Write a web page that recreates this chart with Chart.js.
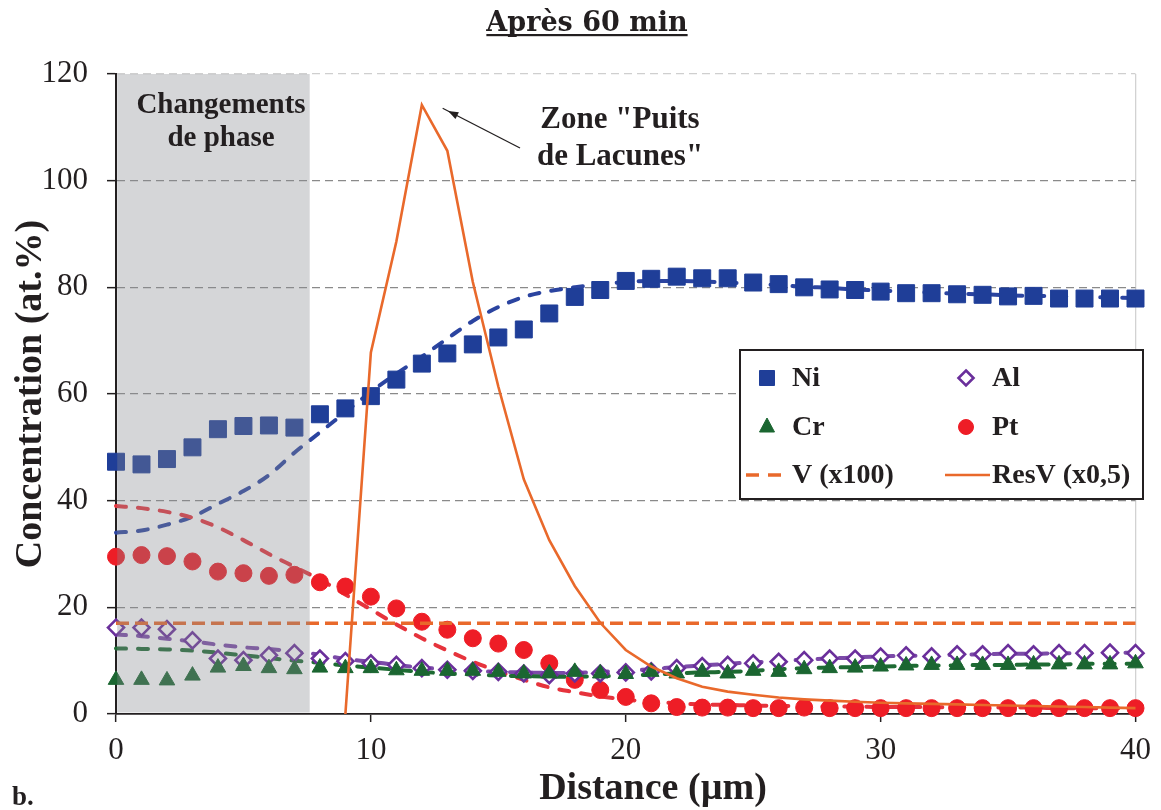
<!DOCTYPE html>
<html>
<head>
<meta charset="utf-8">
<title>Après 60 min</title>
<script src="https://cdn.jsdelivr.net/npm/chart.js@4.4.1/dist/chart.umd.min.js"></script>
<style>
  html, body { margin: 0; padding: 0; background: #fff; }
</style>
</head>
<body>
<canvas id="profileChart" width="1161" height="810"></canvas>
<script>
// Distance (µm) of each analysis point
const distance = [0, 1, 2, 3, 4, 5, 6, 7, 8, 9, 10, 11, 12, 13, 14, 15, 16, 17, 18, 19, 20,
                  21, 22, 23, 24, 25, 26, 27, 28, 29, 30, 31, 32, 33, 34, 35, 36, 37, 38, 39, 40];

// Measured concentrations (at.%)
const ni = [47.3, 46.8, 47.8, 50.0, 53.4, 54.0, 54.1, 53.7, 56.2, 57.3, 59.6, 62.7, 65.7, 67.6, 69.3, 70.6, 72.1, 75.1, 78.2, 79.5, 81.2,
            81.6, 82.0, 81.7, 81.7, 80.9, 80.6, 80.0, 79.6, 79.5, 79.2, 78.9, 78.9, 78.7, 78.6, 78.3, 78.4, 77.9, 77.9, 77.9, 77.9];
const al = [16.2, 16.2, 15.9, 13.8, 10.4, 10.1, 11.0, 11.4, 10.4, 9.9, 9.5, 9.2, 8.6, 8.3, 8.1, 7.9, 7.6, 7.3, 7.6, 7.6, 7.8,
            8.0, 8.6, 9.0, 9.2, 9.5, 9.8, 10.1, 10.4, 10.4, 10.75, 11.0, 10.8, 11.2, 11.2, 11.4, 11.2, 11.4, 11.4, 11.5, 11.4];
const cr = [6.4, 6.4, 6.3, 7.2, 8.7, 9.0, 8.6, 8.4, 8.7, 8.6, 8.6, 8.2, 8.1, 8.1, 8.1, 7.9, 7.6, 7.6, 7.9, 7.6, 7.5,
            7.9, 7.6, 7.9, 7.6, 8.1, 7.9, 8.4, 8.6, 8.7, 8.9, 9.1, 9.2, 9.2, 9.2, 9.2, 9.3, 9.3, 9.3, 9.3, 9.5];
const pt = [29.5, 29.8, 29.6, 28.6, 26.7, 26.4, 25.9, 26.1, 24.7, 23.9, 22.0, 19.8, 17.3, 15.8, 14.2, 13.2, 12.0, 9.5, 6.4, 4.5, 3.2,
            2.0, 1.3, 1.2, 1.2, 1.1, 1.1, 1.2, 1.1, 1.1, 1.1, 1.1, 1.1, 1.1, 1.1, 1.1, 1.1, 1.1, 1.1, 1.1, 1.1];

// Simulated profiles (dashed curves)
const niFit = [34.0, 34.4, 35.5, 37.0, 39.4, 41.8, 44.8, 49.0, 52.8, 56.6, 60.4, 63.8, 67.0, 70.4, 73.7, 76.3, 78.2, 79.3, 80.0, 80.6, 81.0,
               81.2, 81.2, 81.1, 80.9, 80.7, 80.4, 80.1, 79.9, 79.6, 79.4, 79.2, 79.0, 78.8, 78.7, 78.5, 78.4, 78.3, 78.2, 78.1, 78.0];
const alFit = [14.9, 14.6, 14.1, 13.6, 13.0, 12.5, 12.2, 11.7, 11.1, 10.3, 9.8, 9.2, 8.7, 8.4, 8.1, 7.9, 7.8, 7.7, 7.7, 7.9, 8.1,
               8.4, 8.8, 9.1, 9.4, 9.7, 9.9, 10.2, 10.4, 10.6, 10.8, 10.9, 11.0, 11.1, 11.2, 11.3, 11.3, 11.4, 11.4, 11.5, 11.5];
const crFit = [12.3, 12.2, 12.1, 11.9, 11.5, 11.0, 10.5, 10.0, 9.6, 9.1, 8.7, 8.3, 7.9, 7.6, 7.4, 7.2, 7.1, 7.0, 7.0, 7.1, 7.2,
               7.4, 7.6, 7.8, 7.9, 8.1, 8.4, 8.6, 8.7, 8.8, 8.9, 9.0, 9.1, 9.1, 9.2, 9.2, 9.3, 9.3, 9.4, 9.4, 9.4];
const ptFit = [39.0, 38.6, 37.9, 36.8, 35.0, 32.6, 30.0, 27.6, 25.2, 22.4, 19.6, 16.8, 14.2, 11.9, 9.8, 8.0, 6.4, 5.0, 4.1, 3.3, 2.7,
               2.3, 2.0, 1.8, 1.7, 1.6, 1.5, 1.5, 1.4, 1.4, 1.3, 1.3, 1.3, 1.2, 1.2, 1.2, 1.2, 1.1, 1.1, 1.1, 1.1];

// Vacancies V (x100) and vacancy sink ResV (x0,5)
const vDistance = [0, 40];
const vValues = [17.0, 17.0];
const resV = [0, 0, 0, 0, 0, 0, 0, 0, 0, 0, 67.8, 88.6, 114.2, 105.6, 81.0, 61.4, 44.0, 32.6, 24.0, 17.1, 12.0,
              8.9, 6.7, 5.1, 4.2, 3.6, 3.1, 2.75, 2.5, 2.3, 2.1, 2.0, 1.9, 1.8, 1.7, 1.6, 1.5, 1.4, 1.3, 1.2, 1.1];

const xTicks = [0, 10, 20, 30, 40];
const yTicks = [0, 20, 40, 60, 80, 100, 120];
const phaseZoneEnd = 7.6;   // end of the "Changements de phase" zone (µm)

const toPoints = (xs, ys) => xs.map((x, i) => ({ x: x, y: ys[i] }));

const TEXT = '#231f20';
const SERIF = '"Liberation Serif", "Times New Roman", serif';
const ORANGE = '#e9692b';

function fitLine(label, values, color, order) {
    return {
        label: label,
        data: toPoints(distance, values),
        showLine: true,
        borderColor: color,
        borderWidth: 4,
        borderDash: [10, 12],
        borderCapStyle: 'round',
        pointRadius: 0,
        cubicInterpolationMode: 'monotone',
        clip: false,
        order: order
    };
}

function markers(label, values, style, radius, color, fill, bw, order) {
    return {
        label: label,
        data: toPoints(distance, values),
        showLine: false,
        pointStyle: style,
        pointRadius: radius,
        pointHoverRadius: radius,
        pointBackgroundColor: fill,
        pointBorderColor: color,
        pointBorderWidth: bw,
        clip: false,
        order: order
    };
}

const datasets = [
    {
        label: 'ResV (x0,5)',
        data: toPoints(distance, resV),
        showLine: true,
        borderColor: ORANGE,
        borderWidth: 2.6,
        pointRadius: 0,
        tension: 0,
        clip: false,
        // the flat part lying on the x axis is hidden by the axis in the original
        segment: {
            borderColor: s => (s.p0.parsed.y === 0 && s.p1.parsed.y === 0) ? 'rgba(0,0,0,0)' : ORANGE
        },
        order: 0
    },
    {
        label: 'V (x100)',
        data: toPoints(vDistance, vValues),
        showLine: true,
        borderColor: ORANGE,
        borderWidth: 3.5,
        borderDash: [13, 6],
        pointRadius: 0,
        clip: false,
        order: 1
    },
    markers('Cr', cr, 'triangle', 9, '#1b6631', '#1b6631', 1, 2),
    markers('Al', al, 'rectRot', 8, '#6a2f9b', '#ffffff', 2.6, 3),
    markers('Pt', pt, 'circle', 8.5, '#ee1d26', '#ee1d26', 1, 4),
    markers('Ni', ni, 'rect', 12, '#1f3e98', '#1f3e98', 1, 5),
    fitLine('Cr fit', crFit, '#1e6b33', 6),
    fitLine('Al fit', alFit, '#7b4aa8', 7),
    fitLine('Pt fit', ptFit, '#e6333c', 8),
    fitLine('Ni fit', niFit, '#2b44a0', 9)
];

// grey phase zone, annotations, custom legend and titles
const decorations = {
    id: 'decorations',
    afterDatasetsDraw(chart) {
        const ctx = chart.ctx;
        const xs = chart.scales.x, ys = chart.scales.y;
        const left = xs.getPixelForValue(0) + 1.2;
        const right = xs.getPixelForValue(phaseZoneEnd);
        const top = ys.getPixelForValue(120);
        const bottom = ys.getPixelForValue(0) - 1.5;
        ctx.save();
        ctx.fillStyle = 'rgba(135,137,142,0.35)';
        ctx.fillRect(left, top, right - left, bottom - top);
        ctx.restore();
    },
    afterDraw(chart) {
        const ctx = chart.ctx;
        ctx.save();
        ctx.fillStyle = TEXT;
        ctx.textAlign = 'center';
        ctx.textBaseline = 'alphabetic';

        // zone labels
        ctx.font = 'bold 29px ' + SERIF;
        ctx.fillText('Changements', 221, 113);
        ctx.fillText('de phase', 221, 146);
        ctx.font = 'bold 31px ' + SERIF;
        ctx.fillText('Zone "Puits', 620, 128);
        ctx.fillText('de Lacunes"', 620, 165);

        // arrow to the ResV peak
        const ax0 = 520, ay0 = 148, ax1 = 448, ay1 = 111;
        const ang = Math.atan2(ay1 - ay0, ax1 - ax0);
        ctx.strokeStyle = TEXT;
        ctx.lineWidth = 1.3;
        ctx.beginPath();
        ctx.moveTo(ax0, ay0);
        ctx.lineTo(ax1 + 6 * Math.cos(ang), ay1 + 6 * Math.sin(ang));
        ctx.stroke();
        ctx.beginPath();
        ctx.moveTo(ax1, ay1);
        ctx.lineTo(ax1 - 11 * Math.cos(ang - 0.35), ay1 - 11 * Math.sin(ang - 0.35));
        ctx.lineTo(ax1 - 11 * Math.cos(ang + 0.35), ay1 - 11 * Math.sin(ang + 0.35));
        ctx.closePath();
        ctx.fill();

        // title
        ctx.font = 'bold 27px "DejaVu Serif", Georgia, serif';
        ctx.fillText('Après 60 min', 587, 31);
        const tw = ctx.measureText('Après 60 min').width;
        ctx.fillRect(587 - tw / 2, 34, tw, 2.2);

        // axis titles
        ctx.font = 'bold 38px ' + SERIF;
        ctx.textBaseline = 'middle';
        ctx.fillText('Distance (µm)', 653, 789);
        ctx.save();
        ctx.translate(31, 394);
        ctx.rotate(-Math.PI / 2);
        ctx.fillText('Concentration (at.%)', 0, 0);
        ctx.restore();

        ctx.textAlign = 'left';
        ctx.textBaseline = 'alphabetic';
        ctx.font = 'bold 27px ' + SERIF;
        ctx.fillText('b.', 12, 805);

        // legend
        const L = 740, T = 350, R = 1143, B = 499;
        ctx.fillStyle = '#fff';
        ctx.fillRect(L, T, R - L, B - T);
        ctx.strokeStyle = TEXT;
        ctx.lineWidth = 2;
        ctx.strokeRect(L, T, R - L, B - T);

        const byLabel = {};
        datasets.forEach(d => { byLabel[d.label] = d; });
        const rows = [378, 427, 475];
        const mx = [767, 966], tx = [792, 992];
        const entries = [['Ni', 0, 0], ['Al', 1, 0], ['Cr', 0, 1], ['Pt', 1, 1]];
        entries.forEach(([lab, c, r]) => {
            const d = byLabel[lab];
            const x = mx[c], y = rows[r];
            ctx.fillStyle = d.pointBackgroundColor;
            ctx.strokeStyle = d.pointBorderColor;
            ctx.lineWidth = lab === 'Al' ? 2.6 : 1;
            ctx.beginPath();
            if (d.pointStyle === 'rect') {
                ctx.rect(x - 7.5, y - 7.5, 15, 15);
            } else if (d.pointStyle === 'circle') {
                ctx.arc(x, y, 7.5, 0, Math.PI * 2);
            } else if (d.pointStyle === 'rectRot') {
                ctx.moveTo(x, y - 7.5); ctx.lineTo(x + 7.5, y); ctx.lineTo(x, y + 7.5); ctx.lineTo(x - 7.5, y);
                ctx.closePath();
            } else {
                ctx.moveTo(x, y - 9); ctx.lineTo(x + 7.5, y + 5); ctx.lineTo(x - 7.5, y + 5); ctx.closePath();
            }
            ctx.fill();
            ctx.stroke();
            ctx.fillStyle = TEXT;
            ctx.font = 'bold 28px ' + SERIF;
            ctx.textBaseline = 'middle';
            ctx.fillText(lab, tx[c], y + 1);
        });
        // line samples
        ctx.strokeStyle = ORANGE;
        ctx.lineWidth = 3.5;
        ctx.setLineDash([13, 9]);
        ctx.beginPath(); ctx.moveTo(746, rows[2]); ctx.lineTo(782, rows[2]); ctx.stroke();
        ctx.setLineDash([]);
        ctx.lineWidth = 2.6;
        ctx.beginPath(); ctx.moveTo(945, rows[2]); ctx.lineTo(990, rows[2]); ctx.stroke();
        ctx.fillStyle = TEXT;
        ctx.fillText('V (x100)', tx[0], rows[2] + 1);
        ctx.fillText('ResV (x0,5)', tx[1], rows[2] + 1);
        ctx.restore();
    }
};

const ctx = document.getElementById('profileChart').getContext('2d');
const profileChart = new Chart(ctx, {
    type: 'scatter',
    data: { datasets: datasets },
    options: {
        responsive: false,
        animation: false,
        events: [],
        layout: { padding: { top: 74, right: 20, left: 0, bottom: 0 } },
        plugins: {
            legend: { display: false },
            tooltip: { enabled: false },
            title: { display: false }
        },
        scales: {
            x: {
                type: 'linear',
                min: 0,
                max: 40,
                afterFit: s => { s.height = 96; },
                afterBuildTicks: s => { s.ticks = xTicks.map(v => ({ value: v })); },
                grid: {
                    drawOnChartArea: true,
                    color: c => (c.tick && c.tick.value === 40) ? '#d2d2d2' : 'rgba(0,0,0,0)',
                    lineWidth: 1.3,
                    tickColor: TEXT,
                    tickLength: 8,
                    tickWidth: 1.5
                },
                border: { color: TEXT, width: 1.8 },
                ticks: {
                    color: TEXT,
                    font: { family: SERIF, size: 31 },
                    padding: 10,
                    maxRotation: 0
                }
            },
            y: {
                type: 'linear',
                min: 0,
                max: 120,
                afterFit: s => { s.width = 116; },
                afterBuildTicks: s => { s.ticks = yTicks.map(v => ({ value: v })); },
                grid: {
                    color: c => {
                        if (!c.tick) return '#8a8a8a';
                        if (c.tick.value === 0) return 'rgba(0,0,0,0)';
                        if (c.tick.value === 120) return '#cfcfcf';
                        return '#8a8a8a';
                    },
                    lineWidth: 1.3,
                    tickColor: TEXT,
                    tickLength: 9,
                    tickWidth: 1.5
                },
                border: { color: TEXT, width: 2, dash: [8, 5] },
                ticks: {
                    color: TEXT,
                    font: { family: SERIF, size: 31 },
                    padding: 19
                }
            }
        }
    },
    plugins: [decorations]
});
</script>
</body>
</html>
